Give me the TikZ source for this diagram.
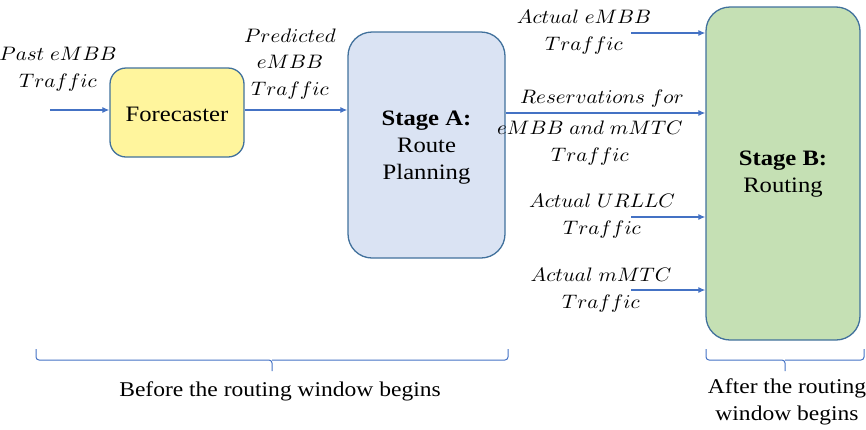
\documentclass[tikz,border=0pt]{standalone}
\usepackage{fontspec}
\usepackage{graphicx}
\setmainfont[FakeStretch=1.12]{Liberation Serif}
\definecolor{boxline}{HTML}{41719C}
\definecolor{arrowc}{HTML}{4472C4}
\definecolor{yellowf}{HTML}{FFF59D}
\definecolor{bluef}{HTML}{DAE3F3}
\definecolor{greenf}{HTML}{C5E0B4}
\newcommand{\lbl}[1]{\scalebox{2.1}[1.95]{\normalsize$#1$}}
\usetikzlibrary{arrows.meta}
\tikzset{
  stagebox/.style={draw=boxline, line width=1.3pt, rounded corners=#1, inner sep=0pt},
  boxtxt/.style={align=center, inner sep=0pt, font=\fontsize{22}{27}\selectfont},
  conn/.style={draw=arrowc, line width=1.2pt, -{Latex[length=7pt,width=6pt]}},
  lab/.style={align=center, inner sep=0pt, font=\fontsize{19}{26.5}\selectfont},
  bracepath/.style={draw=arrowc, line width=1pt, rounded corners=3pt},
  captxt/.style={align=center, inner sep=0pt, font=\fontsize{21}{27}\selectfont}
}
\begin{document}
\begin{tikzpicture}[x=1pt,y=-1pt]
\useasboundingbox (0,0) rectangle (866,429);
% boxes
\node[stagebox=16pt, fill=yellowf, minimum width=134pt, minimum height=89pt] (fc) at (177,112.5) {};
\node[stagebox=24pt, fill=bluef, minimum width=157pt, minimum height=226pt] (sa) at (426.5,145) {};
\node[stagebox=24pt, fill=greenf, minimum width=154pt, minimum height=333pt] (sb) at (783,173.5) {};
\node[boxtxt] (fctext) at (177,114) {Forecaster};
\node[boxtxt] (satext) at (426.5,148) {\textbf{Stage A:}\\Route\\Planning};
\node[boxtxt] (sbtext) at (783,174.5) {\textbf{Stage B:}\\Routing};
% input coordinates
\coordinate (pin) at (50,110);
\coordinate (ae) at (631,33);
\coordinate (au) at (631,217);
\coordinate (am) at (631,290);
% connectors
\draw[conn] (pin) -- (fc.west |- pin);
\draw[conn] (fc.east |- pin) -- (sa.west |- pin);
\draw[conn] (ae) -- (sb.west |- ae);
\draw[conn] (sa.east |- 0,113) -- (sb.west |- 0,113);
\draw[conn] (au) -- (sb.west |- au);
\draw[conn] (am) -- (sb.west |- am);
% labels
\node[lab] (l1) at (58,69) {\lbl{Past\ eMBB}\\\lbl{Traffic}};
\node[lab] (l2) at (290,64) {\lbl{Predicted}\\\lbl{eMBB}\\\lbl{Traffic}};
\node[lab] (l3) at (584,32) {\lbl{Actual\ eMBB}\\\lbl{Traffic}};
\node[lab] (l4) at (602,99) {\lbl{Reservations\ for}};
\node[lab] (l5) at (590,143) {\lbl{eMBB\ and\ mMTC}\\\lbl{Traffic}};
\node[lab] (l6) at (602,216) {\lbl{Actual\ URLLC}\\\lbl{Traffic}};
\node[lab] (l7) at (601,290) {\lbl{Actual\ mMTC}\\\lbl{Traffic}};
% braces
\coordinate (b1l) at (36,349);
\coordinate (b1r) at (508,349);
\coordinate (b1m) at (272,371);
\draw[bracepath] (b1l) -- (36,360) -- (272,360) -- (b1m);
\draw[bracepath] (b1r) -- (508,360) -- (272,360);
\coordinate (b2l) at (706,349);
\coordinate (b2r) at (864,349);
\coordinate (b2m) at (785,371);
\draw[bracepath] (b2l) -- (706,360) -- (785,360) -- (b2m);
\draw[bracepath] (b2r) -- (864,360) -- (785,360);
\node[captxt] (c1) at (280,391) {Before the routing window begins};
\node[captxt] (c2) at (787,402) {After the routing\\window begins};
\end{tikzpicture}
\end{document}
